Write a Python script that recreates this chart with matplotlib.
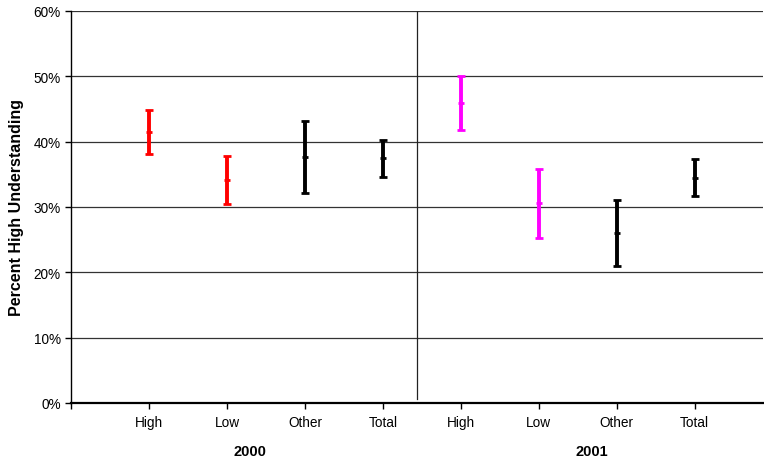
import matplotlib
matplotlib.use("Agg")
import matplotlib.pyplot as plt
from matplotlib.ticker import FuncFormatter

plt.rcParams['font.family'] = ['Liberation Sans', 'DejaVu Sans']

# data (percent)
categories = ["High", "Low", "Other", "Total", "High", "Low", "Other", "Total"]
years = ["2000", "2001"]
mid = [41.5, 34.1, 37.7, 37.5, 45.9, 30.6, 26.0, 34.5]
upper = [44.9, 37.8, 43.1, 40.2, 50.0, 35.8, 31.0, 37.3]
lower = [38.1, 30.5, 32.1, 34.6, 41.7, 25.2, 20.9, 31.7]
colors = ["#ff0000", "#ff0000", "black", "black",
          "#ff00ff", "#ff00ff", "black", "black"]

fig = plt.figure(figsize=(7.64, 4.6), dpi=100)
ax = fig.add_axes([0.093, 0.122, 0.906, 0.852])

xs = list(range(1, len(categories) + 1))
for x, m, hi, lo, c in zip(xs, mid, upper, lower, colors):
    ax.errorbar([x], [m], yerr=[[m - lo], [hi - m]], fmt='_', color=c,
                ecolor=c, elinewidth=2.8, capsize=2.6, capthick=2,
                markersize=5, markeredgewidth=2)

ax.set_xlim(0, 8.88)
ax.set_ylim(0, 60)
ax.set_yticks(range(0, 61, 10))
ax.yaxis.set_major_formatter(FuncFormatter(lambda v, _: '{:g}%'.format(v)))
ax.set_xticks(range(0, 9))
ax.set_xticklabels([''] + categories)
ax.tick_params(axis='both', direction='out', length=4, width=1,
               labelsize=9.8, colors='black')
ax.tick_params(axis='x', pad=5)

ax.grid(axis='y', color='#333333', linewidth=0.9)
ax.set_axisbelow(True)
for s in ['top', 'right']:
    ax.spines[s].set_visible(False)
ax.spines['left'].set_linewidth(1)
ax.spines['bottom'].set_linewidth(1.6)

# divider between the two years
ax.axvline(4.44, ymin=0.01, ymax=1, color='#222222', linewidth=0.9)

ax.set_ylabel("Percent High Understanding", fontsize=11.5,
              fontweight='bold', labelpad=7)

# year group labels
ax.text(2.3, -7.3, years[0], ha='center', va='center', fontsize=10.5,
        fontweight='bold', transform=ax.transData, clip_on=False)
ax.text(6.68, -7.3, years[1], ha='center', va='center', fontsize=10.5,
        fontweight='bold', transform=ax.transData, clip_on=False)

fig.savefig("out.png", dpi=100)
